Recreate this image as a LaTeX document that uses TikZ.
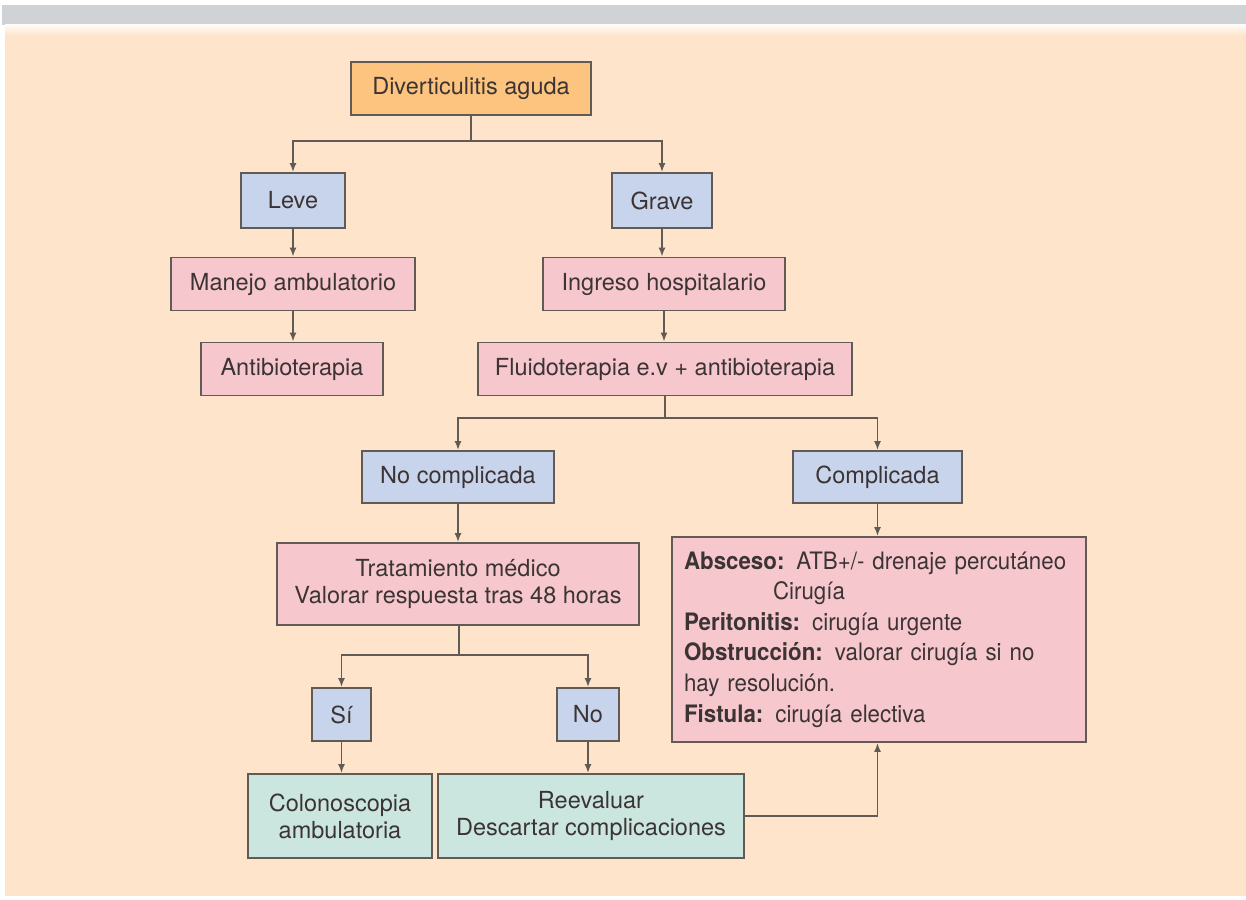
\documentclass[tikz,border=0pt]{standalone}
\usepackage{fontspec}
\setmainfont{TeX Gyre Heros}
\newfontfamily\narrowfont{TeX Gyre Heros}[FakeStretch=0.93]
\usetikzlibrary{arrows.meta}
\definecolor{bggray}{HTML}{D0D3D6}
\definecolor{peach}{HTML}{FDE4CA}
\definecolor{orangebox}{HTML}{FCC47E}
\definecolor{bluebox}{HTML}{C8D4EC}
\definecolor{pinkbox}{HTML}{F6C8CE}
\definecolor{greenbox}{HTML}{CBE6DF}
\definecolor{edge}{HTML}{625A55}
\definecolor{ink}{HTML}{3C3434}
\tikzset{
  box/.style={draw=edge, line width=1.8pt, text=ink, inner sep=0pt, align=center,
    font=\fontsize{23.5}{27}\selectfont},
  obox/.style={box, fill=orangebox},
  bbox/.style={box, fill=bluebox},
  pbox/.style={box, fill=pinkbox},
  gbox/.style={box, fill=greenbox},
  conn/.style={draw=edge, line width=1.7pt},
  arr/.style={conn, -{Latex[length=9pt,width=7pt]}}
}
\begin{document}
\begin{tikzpicture}[x=1pt,y=-1pt]
\useasboundingbox (0,0) rectangle (1246,899);
\fill[white] (0,0) rectangle (1246,899);
\fill[bggray] (2,5) rectangle (1246,25);
\fill[peach] (5,27) rectangle (1246,896);
\shade[top color=white!80!peach, bottom color=peach] (5,25) rectangle (1246,36);

\node[obox, minimum width=240pt, minimum height=53pt] (dv) at (471,88.5) {Diverticulitis aguda};
\node[bbox, minimum width=104pt, minimum height=55pt] (leve) at (293,200.5) {Leve};
\node[bbox, minimum width=100pt, minimum height=55pt] (grave) at (662,200.5) {Grave};
\node[pbox, minimum width=244pt, minimum height=53pt] (manejo) at (293,284) {Manejo ambulatorio};
\node[pbox, minimum width=242pt, minimum height=53pt] (ingreso) at (664,284) {Ingreso hospitalario};
\node[pbox, minimum width=182pt, minimum height=53pt] (anti) at (292,369) {Antibioterapia};
\node[pbox, minimum width=374pt, minimum height=53pt] (fluido) at (665,369) {Fluidoterapia e.v + antibioterapia};
\node[bbox, minimum width=192pt, minimum height=52pt] (nocomp) at (458,477) {No complicada};
\node[bbox, minimum width=169pt, minimum height=52pt] (comp) at (877.5,477) {Complicada};
\node[pbox, minimum width=362pt, minimum height=82pt] (trat) at (458,584) {Tratamiento médico\\Valorar respuesta tras 48 horas};
\node[bbox, minimum width=59pt, minimum height=53pt] (si) at (341.5,714.5) {Sí};
\node[bbox, minimum width=62pt, minimum height=53pt] (no) at (588,714.5) {No};
\node[gbox, minimum width=184pt, minimum height=84pt] (colon) at (340,816) {Colonoscopia\\ambulatoria};
\node[gbox, minimum width=306pt, minimum height=84pt] (reev) at (591,816) {Reevaluar\\Descartar complicaciones};
\node[pbox, minimum width=414pt, minimum height=205pt, text width=390pt, align=left,
  font=\narrowfont\fontsize{24}{30.6}\selectfont] (cbox) at (879,639.5)
  {\textbf{Absceso:} ATB+/- drenaje percutáneo\\
   \hspace*{89pt}Cirugía\\
   \textbf{Peritonitis:} cirugía urgente\\
   \textbf{Obstrucción:} valorar cirugía si no\\
   hay resolución.\\
   \textbf{Fistula:} cirugía electiva};

\coordinate (j1) at (471,141);
\draw[conn] (dv.south) -- (j1);
\draw[arr] (j1) -| (leve.north);
\draw[arr] (j1) -| (grave.north);
\draw[arr] (leve.south) -- (leve.south |- manejo.north);
\draw[arr] (manejo.south) -- (manejo.south |- anti.north);
\draw[arr] (grave.south) -- (grave.south |- ingreso.north);
\draw[arr] (ingreso.south) -- (ingreso.south |- fluido.north);

\coordinate (j2) at (665,418);
\draw[conn] (fluido.south) -- (j2);
\draw[arr] (j2) -| (nocomp.north);
\draw[arr] (j2) -| (comp.north);
\draw[arr] (nocomp.south) -- (nocomp.south |- trat.north);
\draw[arr] (comp.south) -- (comp.south |- cbox.north);

\coordinate (j3) at (459,655);
\draw[conn] (trat.south -| j3) -- (j3);
\draw[arr] (j3) -| (si.north);
\draw[arr] (j3) -| (no.north);
\draw[arr] (si.south) -- (si.south |- colon.north);
\draw[arr] (no.south) -- (no.south |- reev.north);
\draw[arr] (reev.east) -| (comp.south |- cbox.south);
\end{tikzpicture}
\end{document}
